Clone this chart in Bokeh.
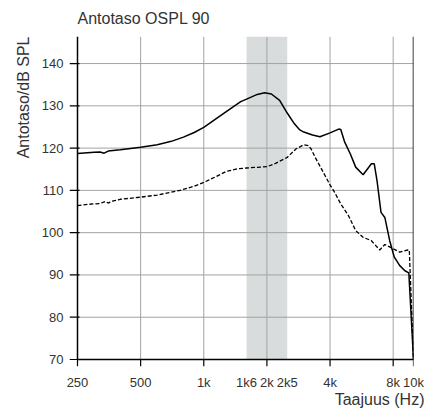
import math
from bokeh.plotting import figure
from bokeh.models import Range1d, FixedTicker, Title
from bokeh.embed import file_html
from bokeh.resources import INLINE

# --- data -------------------------------------------------------------
title_text = "Antotaso OSPL 90"
y_label = "Antotaso/dB SPL"
x_label = "Taajuus (Hz)"

x_tick_values = [250, 500, 1000, 1600, 2000, 2500, 4000, 8000, 10000]
x_tick_labels = ["250", "500", "1k", "1k6", "2k", "2k5", "4k", "8k", "10k"]
x_tick_marks = [250, 500, 1000, 2000, 4000, 8000, 10000]
x_grid_values = [500, 1000, 2000, 4000, 8000]
y_grid_values = [80, 90, 100, 110, 120, 130, 140]
y_tick_values = [70, 80, 90, 100, 110, 120, 130, 140]

band_low = [1600]
band_high = [2500]

solid_freq = [250, 300, 320, 335, 350, 400, 500, 600, 700, 800, 900, 1000,
              1250, 1500, 1600, 1800, 1950, 2100, 2300, 2500, 2700, 2870,
              3000, 3300, 3580, 4000, 4400, 4500, 4700, 5000, 5300, 5750,
              6300, 6500, 6700, 7000, 7300, 7700, 8100, 8600, 9100, 9500, 10000]
solid_db = [118.7, 119.0, 119.1, 118.8, 119.3, 119.6, 120.2, 120.8, 121.6, 122.6, 123.7, 124.9,
            128.3, 131.0, 131.6, 132.7, 133.1, 132.8, 131.3, 128.3, 125.8, 124.3,
            123.8, 123.1, 122.7, 123.6, 124.5, 124.4, 121.4, 118.6, 115.5, 113.7,
            116.3, 116.3, 112.3, 104.8, 103.6, 98.1, 94.2, 92.2, 91.0, 90.5, 70.0]

dashed_freq = [250, 280, 320, 340, 350, 370, 400, 500, 600, 770, 900, 1000,
               1150, 1280, 1450, 1600, 2000, 2200, 2500, 2750, 3000, 3150,
               3250, 3400, 3750, 4000, 4200, 4500, 4900, 5300, 5750, 6300,
               6900, 7300, 8000, 8600, 9400, 9550, 10000]
dashed_db = [106.4, 106.7, 106.9, 107.4, 107.0, 107.5, 107.9, 108.4, 108.9, 110.0, 111.0, 111.9,
             113.3, 114.5, 115.1, 115.3, 115.6, 116.4, 117.8, 119.8, 120.8, 120.6,
             119.8, 117.8, 113.9, 111.3, 109.6, 106.8, 104.0, 100.5, 98.9, 98.1,
             95.9, 97.2, 96.2, 95.4, 95.9, 95.9, 70.0]

y_min, y_max = 70, 146.4
x_min, x_max = 250, 10000

# --- geometry (pixels) --------------------------------------------------
PLOT_W, PLOT_H = 336, 323          # axis-to-axis size of the chart area
TICK_X_OUT, TICK_Y_OUT, TICK_IN = 7, 8, 2
px_per_db = PLOT_H / (y_max - y_min)
px_per_oct = PLOT_W / math.log2(x_max / x_min)
y_lo = y_min - TICK_X_OUT / px_per_db             # room for x tick marks
x_lo = x_min / 2 ** (TICK_Y_OUT / px_per_oct)      # room for y tick marks
x_tick_in = x_min * 2 ** (TICK_IN / px_per_oct)

FONT = "Liberation Sans"
TXT = "#333333"
GRID = "#a3a3a3"

p = figure(x_axis_type="log", output_backend="svg", toolbar_location=None,
           frame_width=PLOT_W + TICK_Y_OUT, frame_height=PLOT_H + TICK_X_OUT,
           min_border_left=69, min_border_right=28, min_border_top=36, min_border_bottom=45,
           x_range=Range1d(x_lo, x_max), y_range=Range1d(y_lo, y_max))
p.outline_line_color = None
p.xgrid.visible = False
p.ygrid.visible = False

# shaded band
p.quad(left=band_low, right=band_high, bottom=[y_min], top=[y_max],
       fill_color="#d9dcdc", line_color=None)

# grid lines
p.segment(x0=x_grid_values, x1=x_grid_values, y0=[y_min] * len(x_grid_values),
          y1=[y_max] * len(x_grid_values), line_color=GRID, line_width=1)
p.segment(x0=[x_min] * len(y_grid_values), x1=[x_max] * len(y_grid_values),
          y0=y_grid_values, y1=y_grid_values, line_color=GRID, line_width=1)

# tick marks
p.segment(x0=x_tick_marks, x1=x_tick_marks, y0=[y_min] * len(x_tick_marks),
          y1=[y_lo] * len(x_tick_marks), line_color="black", line_width=1.2)
p.segment(x0=[x_lo] * len(y_tick_values), x1=[x_tick_in] * len(y_tick_values),
          y0=y_tick_values, y1=y_tick_values, line_color="black", line_width=1.2)

# axis lines (left, bottom, right)
p.segment(x0=[x_min, x_min, x_max], x1=[x_min, x_max, x_max],
          y0=[y_min, y_min, y_min], y1=[y_max, y_min, y_max],
          line_color="black", line_width=1.5)

# curves
p.line(solid_freq, solid_db, line_color="black", line_width=1.5)
p.line(dashed_freq, dashed_db, line_color="black", line_width=1.3, line_dash="4 2")

# x axis (labels only)
xa = p.xaxis[0]
xa.ticker = FixedTicker(ticks=x_tick_values)
xa.major_label_overrides = {v: s for v, s in zip(x_tick_values, x_tick_labels)}
xa.major_tick_line_color = None
xa.minor_tick_line_color = None
xa.major_tick_out = 0
xa.major_tick_in = 0
xa.axis_line_color = None
xa.major_label_standoff = 8
xa.major_label_text_font = FONT
xa.major_label_text_font_size = "13px"
xa.major_label_text_color = TXT

# y axis (labels only)
ya = p.yaxis[0]
ya.ticker = FixedTicker(ticks=y_tick_values)
ya.major_tick_line_color = None
ya.minor_tick_line_color = None
ya.major_tick_out = 0
ya.major_tick_in = 0
ya.axis_line_color = None
ya.major_label_standoff = 6
ya.major_label_text_font = FONT
ya.major_label_text_font_size = "13px"
ya.major_label_text_color = TXT

# texts
p.title.text = title_text
p.title.align = "left"
p.title.vertical_align = "top"
p.title.offset = TICK_Y_OUT
p.title.standoff = 16
p.title.text_font = FONT
p.title.text_font_size = "16px"
p.title.text_font_style = "normal"
p.title.text_color = TXT

p.add_layout(Title(text=x_label, align="right", offset=-11, standoff=-7,
                   text_font=FONT, text_font_size="16px", text_font_style="normal",
                   text_color=TXT), "below")
p.add_layout(Title(text=y_label, align="right", offset=0, standoff=13,
                   text_font=FONT, text_font_size="16px", text_font_style="normal",
                   text_color=TXT), "left")

open("out.html", "w").write(file_html(p, INLINE))
